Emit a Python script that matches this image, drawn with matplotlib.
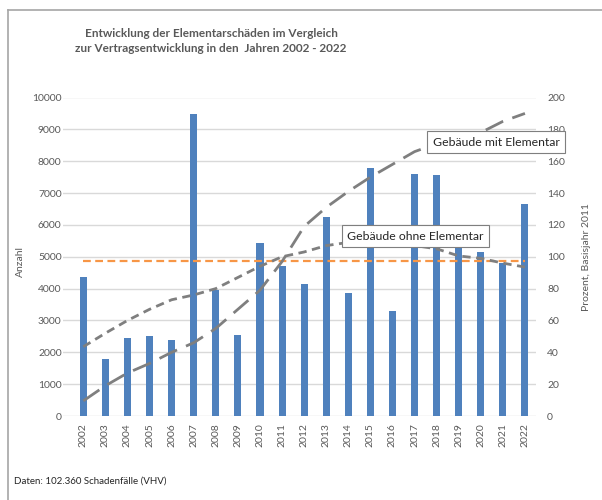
import matplotlib
matplotlib.use("Agg")
import matplotlib.pyplot as plt
from matplotlib.lines import Line2D
import numpy as np

plt.rcParams['font.family'] = ['Lato', 'DejaVu Sans']

years = [str(y) for y in range(2002, 2023)]
# Anzahl Schadenfaelle pro Jahr
claims = [4350, 1800, 2450, 2520, 2400, 9480, 3950, 2550, 5420, 4700, 4130,
          6250, 3850, 7800, 3300, 7600, 7580, 5620, 5160, 4800, 6650]
avg_claims = 4875
# Vertragsentwicklung in Prozent (Basisjahr 2011)
with_elem = [9.5, 19, 27, 33, 40, 46, 55, 67, 79, 97, 119,
             131, 141, 150, 158, 166, 171, 174, 178, 185, 190]
without_elem = [43.5, 52, 60, 67, 73, 76, 80, 87, 94, 100, 103,
                107, 109, 109.5, 108.5, 107, 105, 100.5, 99, 96, 93.5]

grey_txt = '#595959'
x = np.arange(len(years))

fig = plt.figure(figsize=(6.02, 5), dpi=100)
ax = fig.add_axes([63/602, 1-416/500, (536-63)/602, (416-97.5)/500])
ax2 = ax.twinx()

ax.bar(x, claims, width=0.32, color='#4F81BD', zorder=2)
ax.plot(x, [avg_claims]*len(x), color='#F79646', lw=1.6, dashes=(3.5, 2), zorder=3)

ax2.plot(x, with_elem, color='#7F7F7F', lw=2.0, dashes=(7, 3.5), zorder=3)
ax2.plot(x, without_elem, color='#7F7F7F', lw=2.0, dashes=(3, 2), zorder=3)

ax.set_ylim(0, 10000)
ax.set_yticks(range(0, 10001, 1000))
ax2.set_ylim(0, 200)
ax2.set_yticks(range(0, 201, 20))
ax.set_xlim(-0.92, 20.5)
ax.set_xticks(x)
ax.set_xticklabels(years, rotation=90)
ax.grid(axis='y', color='#D9D9D9', lw=1, zorder=0)
ax.set_axisbelow(True)

for a in (ax, ax2):
    for s in a.spines.values():
        s.set_visible(False)
    a.tick_params(length=0, labelsize=7.5, labelcolor=grey_txt)
ax.tick_params(axis='y', pad=1)
ax.tick_params(axis='x', pad=5)
ax2.tick_params(axis='y', pad=8)

ax.set_ylabel('Anzahl', fontsize=7.5, color=grey_txt)
ax.yaxis.set_label_coords(-38/473, 0.485)
ax2.set_ylabel('Prozent, Basisjahr 2011', fontsize=7.5, color=grey_txt, labelpad=12)

box = dict(boxstyle='square,pad=0.45', fc='white', ec='#7F7F7F', lw=0.8)
ax2.text(18.7, 172, 'Gebäude mit Elementar', fontsize=8.8, color='#262626',
         ha='center', va='center', bbox=box, zorder=5)
ax2.text(15.05, 113, 'Gebäude ohne Elementar', fontsize=8.8, color='#262626',
         ha='center', va='center', bbox=box, zorder=5)

fig.text(211/602, 1-33/500, 'Entwicklung der Elementarschäden im Vergleich',
         fontsize=8.5, fontweight='bold', color=grey_txt, ha='center', va='center')
fig.text(211/602, 1-48.5/500, 'zur Vertragsentwicklung in den  Jahren 2002 - 2022',
         fontsize=8.5, fontweight='bold', color=grey_txt, ha='center', va='center')
fig.text(14/602, 1-481/500, 'Daten: 102.360 Schadenfälle (VHV)', fontsize=7,
         color='#262626', ha='left', va='center')

# Rahmen links und oben
fig.add_artist(Line2D([7.5/602, 7.5/602], [0, 1-10/500], color='#A6A6A6', lw=1.2))
fig.add_artist(Line2D([7.5/602, 1], [1-10/500, 1-10/500], color='#A6A6A6', lw=1.2))

fig.savefig('out.png', dpi=100)
